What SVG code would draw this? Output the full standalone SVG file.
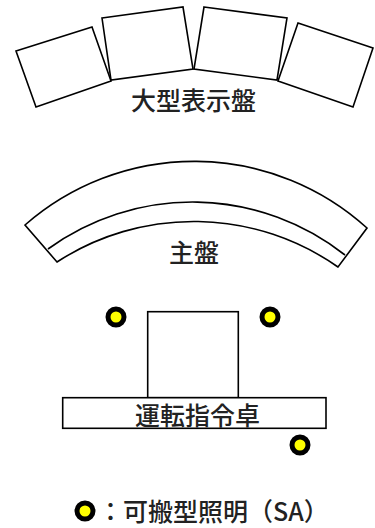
<svg xmlns="http://www.w3.org/2000/svg" width="375" height="528" viewBox="0 0 375 528">
<style>
.sh{fill:#fff;stroke:#000;stroke-width:1.6;stroke-linejoin:miter}
.ln{fill:none;stroke:#000;stroke-width:1.6}
.lb{font-family:"Noto Sans CJK JP","Noto Sans",sans-serif;font-size:25px;font-weight:500;fill:#222;text-anchor:middle;dominant-baseline:central}
.lamp{fill:#ffff00;stroke:#000;stroke-width:5}
</style>
<rect width="375" height="528" fill="#fff"/>
<g id="large-display">
<polygon class="sh" points="16,51 92,27 111,81 36,107"/>
<polygon class="sh" points="102,18 183,7 193,69 111,80"/>
<polygon class="sh" points="204,7 287,18 277,80 194,69"/>
<polygon class="sh" points="298,23 373,48 353,107 278,81"/>
<text class="lb" x="193.5" y="99">大型表示盤</text>
</g>
<g id="main-panel">
<path class="sh" d="M25,225 A257,257 0 0 1 367,228 L338,267 A251,251 0 0 0 57,262 Z"/>
<path class="ln" d="M48,249 A246,246 0 0 1 345,255"/>
<text class="lb" x="194" y="251">主盤</text>
</g>
<g id="console">
<rect class="sh" x="147.7" y="311.7" width="90.6" height="86"/>
<rect class="sh" x="62.7" y="397.7" width="263.3" height="30.6"/>
<text class="lb" x="197.5" y="414">運転指令卓</text>
</g>
<g id="lamps">
<circle class="lamp" cx="116" cy="317" r="8"/>
<circle class="lamp" cx="270" cy="317" r="8"/>
<circle class="lamp" cx="300" cy="445" r="8"/>
</g>
<g id="legend">
<circle class="lamp" cx="85" cy="511" r="8"/>
<text class="lb" x="98" y="510" style="text-anchor:start">：可搬型照明（SA）</text>
</g>
</svg>
